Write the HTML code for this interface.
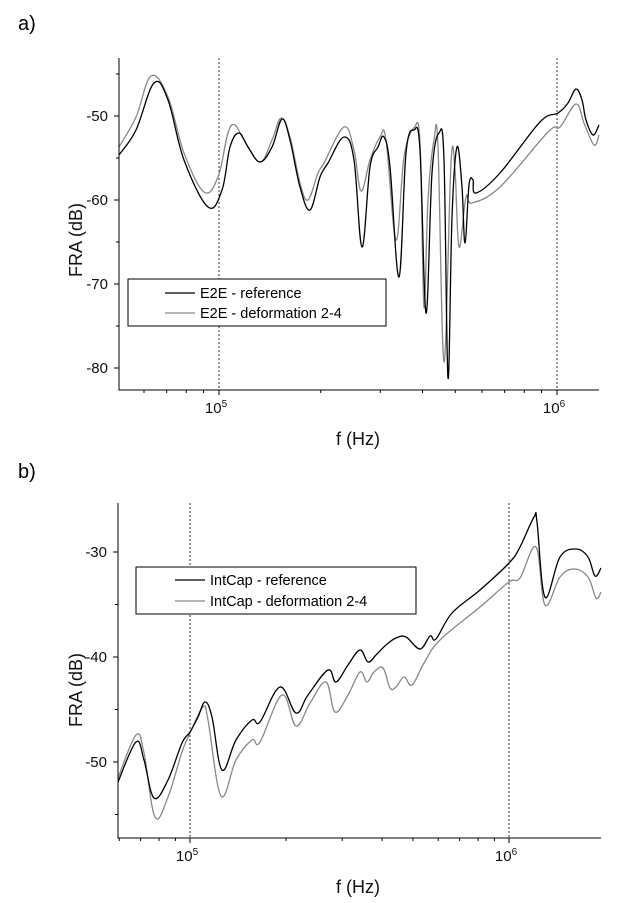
<!DOCTYPE html>
<html><head><meta charset="utf-8"><style>
html,body{margin:0;padding:0;background:#fff;}
svg{display:block;font-family:"Liberation Sans",Arial,sans-serif;}
</style></head><body>
<svg id="s" width="625" height="903" viewBox="0 0 625 903" xmlns="http://www.w3.org/2000/svg">
<text x="18" y="30" font-size="20">a)</text>
<text x="18" y="478" font-size="20">b)</text>
<g id="ticks"></g>
<!-- Plot a -->
<line x1="219" y1="58" x2="219" y2="390" stroke="#000" stroke-width="0.8" stroke-dasharray="2,2"/>
<line x1="557" y1="58" x2="557" y2="390" stroke="#000" stroke-width="0.8" stroke-dasharray="2,2"/>
<polyline class="c" fill="none" stroke="#888" stroke-width="1.3" stroke-linejoin="round" points="119,147 136,117 151,76 168,97 184,153 204,192 218,177 228,133 235,125 244,140 260,162 272,140 281,118 290,137 300,183 308,200 318,173 324,163 344,127 354,150 361,191 370,160 380,137 386,140 396,240 404,157 414,128 420,143 424,307 428,200 434,140 438,147 444,362 451,163 455,170 459,247 466,197 472,203 500,187 548,132 560,127 576,104 584,123 594,145 599,135"/>
<polyline class="c" fill="none" stroke="#000" stroke-width="1.3" stroke-linejoin="round" points="119,155 136,130 154,83 168,100 184,160 208,207 222,190 230,147 239,133 248,147 260,162 272,147 282,119 290,140 300,187 310,210 320,177 328,163 344,137 354,160 362,247 370,167 378,147 384,137 390,167 399,277 406,153 414,130 420,150 426,313 432,173 439,133 444,160 448,378 452,217 457,147 462,187 465,243 469,185 473,180 476,193 500,173 540,122 558,113 568,103 576,89 582,100 586,120 593,135 599,125"/>
<polyline fill="none" stroke="#000" stroke-width="1" points="119,58 119,390 599,390"/>
<g font-size="15" text-anchor="end" fill="#111">
<text x="108" y="121">-50</text><text x="108" y="205">-60</text><text x="108" y="289">-70</text><text x="108" y="373">-80</text>
</g>
<g font-size="15" text-anchor="middle" fill="#111">
<text x="216" y="413">10<tspan font-size="10" dy="-6">5</tspan></text>
<text x="554" y="413">10<tspan font-size="10" dy="-6">6</tspan></text>
<text x="358" y="445" font-size="18">f (Hz)</text>
<text transform="translate(82,240) rotate(-90)" font-size="18">FRA (dB)</text>
</g>
<rect x="128" y="279" width="258" height="47" fill="#fff" stroke="#000" stroke-width="1"/>
<line x1="165" y1="293" x2="195" y2="293" stroke="#000" stroke-width="1.2"/>
<line x1="165" y1="313" x2="195" y2="313" stroke="#888" stroke-width="1.2"/>
<text x="200" y="298" font-size="14.5">E2E - reference</text>
<text x="200" y="318" font-size="14.5">E2E - deformation 2-4</text>
<!-- Plot b -->
<line x1="190" y1="503" x2="190" y2="838" stroke="#000" stroke-width="0.8" stroke-dasharray="2,2"/>
<line x1="509" y1="503" x2="509" y2="838" stroke="#000" stroke-width="0.8" stroke-dasharray="2,2"/>
<polyline class="c" fill="none" stroke="#888" stroke-width="1.3" stroke-linejoin="round" points="118,778 136,735 144,753 155,817 168,797 182,752 190,733 203,707 208,720 221,796 236,760 252,740 260,742 282,695 296,726 310,703 326,682 335,712 348,695 360,672 367,682 374,672 383,668 390,688 396,687 404,677 412,685 424,663 440,640 480,607 509,582 520,578 536,547 545,605 560,577 574,569 588,577 596,598 601,592"/>
<polyline class="c" fill="none" stroke="#000" stroke-width="1.3" stroke-linejoin="round" points="118,782 136,742 144,760 154,798 168,780 182,743 190,732 198,717 205,702 212,717 222,770 236,740 252,720 260,722 280,687 296,713 308,695 328,670 336,682 348,665 360,650 368,662 376,655 386,645 396,638 406,637 420,649 430,636 436,639 452,613 480,590 509,563 520,547 534,517 537,522 545,597 560,557 576,549 588,557 595,576 601,568"/>
<polyline fill="none" stroke="#000" stroke-width="1" points="118,503 118,838 601,838"/>
<g font-size="15" text-anchor="end" fill="#111">
<text x="107" y="557">-30</text><text x="107" y="662">-40</text><text x="107" y="767">-50</text>
</g>
<g font-size="15" text-anchor="middle" fill="#111">
<text x="187" y="861">10<tspan font-size="10" dy="-6">5</tspan></text>
<text x="506" y="861">10<tspan font-size="10" dy="-6">6</tspan></text>
<text x="358" y="893" font-size="18">f (Hz)</text>
<text transform="translate(82,690) rotate(-90)" font-size="18">FRA (dB)</text>
</g>
<rect x="136" y="567" width="280" height="47" fill="#fff" stroke="#000" stroke-width="1"/>
<line x1="175" y1="580" x2="205" y2="580" stroke="#000" stroke-width="1.2"/>
<line x1="175" y1="601" x2="205" y2="601" stroke="#888" stroke-width="1.2"/>
<text x="210" y="585" font-size="14.5">IntCap - reference</text>
<text x="210" y="606" font-size="14.5">IntCap - deformation 2-4</text>
</svg>
<script>
(function(){
var g=document.getElementById('ticks'),h='';
function L(a,b,c,d){h+='<line x1="'+a+'" y1="'+b+'" x2="'+c+'" y2="'+d+'" stroke="#000" stroke-width="1"/>';}
function xt(x0,x1,p5,dec,y){
 for(var e=4;e<=6;e++)for(var m=1;m<10;m++){
  var x=p5+(e-5+Math.log10(m))*dec; if(x<x0||x>x1)continue;
  L(x,y,x,y+(m==1?5:3));}
}
function yt(x,yTop,yBot,yRef,per5){
 for(var k=-20;k<=20;k++){var y=yRef+k*per5; if(y<yTop||y>yBot)continue; L(x,y,x-(k%2==0?5:3),y);}
}
xt(119,599,219,338,390); yt(119,58,390,116,42);
xt(118,601,190,319,838); yt(118,503,838,552,52.5);
g.innerHTML=h;
var ns='http://www.w3.org/2000/svg';
document.querySelectorAll('polyline.c').forEach(function(pl){
 var p=pl.getAttribute('points').trim().split(/\s+/).map(function(s){return s.split(',').map(Number);});
 var d='M'+p[0][0]+','+p[0][1],t=0.18;
 for(var i=0;i<p.length-1;i++){
  var p0=p[i>0?i-1:i],p1=p[i],p2=p[i+1],p3=p[i+2<p.length?i+2:i+1];
  var c1x=p1[0]+(p2[0]-p0[0])*t,c1y=p1[1]+(p2[1]-p0[1])*t;
  var c2x=p2[0]-(p3[0]-p1[0])*t,c2y=p2[1]-(p3[1]-p1[1])*t;
  d+=' C'+c1x.toFixed(1)+','+c1y.toFixed(1)+' '+c2x.toFixed(1)+','+c2y.toFixed(1)+' '+p2[0]+','+p2[1];
 }
 var path=document.createElementNS(ns,'path');
 path.setAttribute('d',d);path.setAttribute('fill','none');
 path.setAttribute('stroke',pl.getAttribute('stroke'));path.setAttribute('stroke-width','1.3');
 pl.parentNode.replaceChild(path,pl);
});
})();
</script>
</body></html>
